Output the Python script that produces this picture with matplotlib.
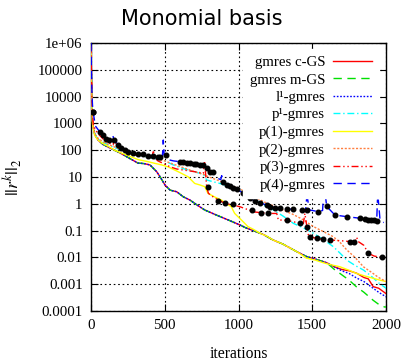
import numpy as np
import matplotlib
matplotlib.use("Agg")
import matplotlib.pyplot as plt

# ---------------- data (log10 of residual norm) ----------------
low_it = [0, 3, 6, 10, 15, 25, 47, 80, 115, 160, 203, 260, 318, 360, 400, 445, 468, 502, 536, 581, 626, 671, 720, 771, 850, 929, 1010, 1051, 1100, 1170, 1234, 1300, 1350, 1400, 1462, 1530, 1598]
low_lg = [5.85, 4.8, 3.8, 3.1, 2.85, 2.6, 2.38, 2.22, 2.12, 2.0, 1.88, 1.7, 1.52, 1.5, 1.45, 1.2, 1.01, 0.7, 0.51, 0.45, 0.26, 0.14, -0.05, -0.23, -0.42, -0.6, -0.79, -0.9, -1.0, -1.15, -1.35, -1.5, -1.65, -1.8, -1.97, -2.08, -2.2]

cgs_tail_it = [1650, 1700, 1750, 1801, 1850, 1880, 1913, 1950, 2000]
cgs_tail_lg = [-2.35, -2.45, -2.5, -2.59, -2.75, -2.8, -3.09, -3.15, -3.35]
mgs_tail_it = [1650, 1688, 1750, 1800, 1850, 1913, 1950, 1990, 2000]
mgs_tail_lg = [-2.45, -2.6, -2.85, -3.1, -3.3, -3.6, -3.75, -3.85, -3.85]
l1_tail_it = [1650, 1700, 1750, 1801, 1850, 1900, 1950, 2000]
l1_tail_lg = [-2.35, -2.5, -2.6, -2.77, -2.9, -3.1, -3.3, -3.47]

p1_it = [0, 3, 6, 10, 15, 25, 47, 80, 115, 160, 203, 260, 318, 380, 432, 480, 522, 590, 658, 703, 740, 771, 793, 840, 884, 920, 951, 974, 1019, 1064, 1100, 1146, 1190, 1234, 1300, 1350, 1400, 1462, 1520, 1575, 1630, 1688, 1750, 1801, 1860, 1914, 1960, 2000]
p1_lg = [5.8, 4.7, 3.7, 3.0, 2.8, 2.55, 2.38, 2.25, 2.15, 2.0, 1.9, 1.78, 1.65, 1.58, 1.51, 1.45, 1.38, 1.2, 1.01, 0.76, 0.7, 0.64, 0.39, 0.25, 0.14, 0.0, -0.11, -0.36, -0.6, -0.85, -0.95, -1.1, -1.2, -1.35, -1.5, -1.65, -1.8, -2.03, -2.1, -2.2, -2.28, -2.35, -2.48, -2.6, -2.7, -2.78, -2.85, -2.9]

pl1_it = [0, 3, 6, 10, 15, 25, 47, 80, 115, 160, 203, 260, 318, 380, 432, 500, 558, 620, 700, 762, 784, 830, 874, 950, 1010, 1055, 1100, 1146, 1190, 1236, 1300, 1372, 1440, 1508, 1580, 1643, 1690, 1734, 1790, 1847, 1900, 1950, 2000]
pl1_lg = [5.8, 4.8, 3.8, 3.1, 2.9, 2.6, 2.42, 2.3, 2.2, 2.1, 2.0, 1.9, 1.82, 1.75, 1.68, 1.6, 1.45, 1.32, 1.2, 1.1, 0.89, 0.82, 0.76, 0.62, 0.5, 0.39, 0.2, 0.02, -0.1, -0.23, -0.45, -0.73, -0.9, -1.1, -1.35, -1.6, -1.85, -2.1, -2.3, -2.47, -2.7, -2.95, -3.15]

p2_it = [0, 3, 6, 10, 15, 25, 47, 80, 115, 160, 203, 260, 318, 380, 432, 500, 558, 620, 700, 762, 800, 874, 950, 1010, 1055, 1100, 1146, 1200, 1260, 1320, 1372, 1440, 1508, 1580, 1643, 1690, 1734, 1790, 1847, 1900, 1950, 2000]
p2_lg = [5.8, 4.8, 3.8, 3.1, 2.9, 2.62, 2.45, 2.32, 2.22, 2.12, 2.02, 1.92, 1.83, 1.75, 1.68, 1.6, 1.48, 1.36, 1.2, 1.1, 1.0, 0.85, 0.68, 0.55, 0.42, 0.3, 0.15, 0.0, -0.12, -0.28, -0.4, -0.6, -0.85, -1.05, -1.23, -1.45, -1.72, -2.0, -2.35, -2.55, -2.75, -2.9]

p3_it = [0, 3, 6, 10, 15, 30, 59, 104, 150, 160, 170, 206, 251, 318, 386, 415, 423, 430, 454, 500, 536, 580, 626, 700, 762, 770, 784, 796, 830, 863, 909, 965, 1010, 1055, 1101, 1150, 1202, 1259, 1270, 1327, 1380, 1417, 1440, 1450, 1462, 1475, 1485, 1530, 1580, 1620, 1700, 1756, 1790, 1801, 1812, 1850, 1880, 1920, 1971, 2000]
p3_lg = [5.9, 4.9, 4.0, 3.4, 3.0, 2.75, 2.55, 2.3, 2.2, 2.5, 2.2, 2.0, 1.9, 1.8, 1.76, 1.75, 2.0, 1.72, 1.6, 1.48, 1.38, 1.3, 1.26, 1.2, 1.14, 1.6, 0.64, 0.39, 0.25, 0.14, 0.02, -0.05, -0.11, -0.2, -0.3, -0.33, -0.36, -0.36, -0.6, -0.62, -0.68, -0.73, -0.73, -0.36, -0.8, -1.2, -1.23, -1.29, -1.33, -1.35, -1.38, -1.41, -1.41, -1.25, -1.41, -1.55, -1.85, -1.95, -2.0, -2.0]
p3_dot_it = [14, 796, 863, 909, 965, 1090, 1150, 1202, 1327, 1417, 1462, 1485, 1530, 1575, 1620, 1756, 1780, 1880, 1971]
p3_dot_lg = [3.44, 0.64, 0.1, 0.02, 0.0, -0.25, -0.33, -0.36, -0.6, -0.73, -0.85, -1.23, -1.29, -1.33, -1.35, -1.41, -1.41, -1.85, -2.0]

p4_it = [0, 3, 6, 10, 14, 30, 59, 104, 140, 148, 156, 206, 251, 318, 386, 454, 484, 490, 496, 513, 536, 560, 603, 671, 762, 784, 807, 829, 860, 880, 886, 892, 897, 920, 965, 988, 1033, 1078, 1146, 1191, 1214, 1282, 1327, 1372, 1455, 1462, 1468, 1480, 1541, 1570, 1578, 1585, 1598, 1654, 1734, 1824, 1900, 1937, 1942, 1948, 1960, 1985]
p4_lg = [6.0, 5.0, 4.2, 3.7, 3.44, 2.9, 2.69, 2.41, 2.38, 2.55, 2.38, 2.07, 1.94, 1.86, 1.8, 1.76, 1.76, 2.38, 1.82, 1.82, 1.63, 1.6, 1.57, 1.51, 1.45, 1.33, 1.2, 1.2, 0.95, 0.9, 1.05, 0.85, 0.82, 0.7, 0.6, 0.55, 0.39, 0.2, 0.02, -0.04, -0.11, -0.17, -0.2, -0.2, -0.23, 0.2, 0.2, -0.23, -0.29, -0.25, 0.51, 0.5, -0.1, -0.42, -0.48, -0.54, -0.6, -0.63, 0.14, 0.14, -0.63, -0.7]
p4_dot_it = [14, 59, 80, 104, 125, 156, 180, 206, 230, 251, 285, 318, 355, 386, 423, 454, 470, 511, 603, 626, 650, 671, 695, 715, 740, 762, 784, 807, 829, 897, 920, 945, 965, 988, 1033, 1078, 1110, 1146, 1191, 1214, 1250, 1282, 1327, 1372, 1430, 1462, 1541, 1598, 1654, 1734, 1824, 1860, 1880, 1900, 1920, 1937]
p4_dot_lg = [3.44, 2.69, 2.55, 2.41, 2.38, 2.38, 2.2, 2.07, 2.0, 1.94, 1.9, 1.86, 1.85, 1.8, 1.8, 1.76, 1.76, 1.82, 1.57, 1.55, 1.53, 1.51, 1.5, 1.48, 1.46, 1.45, 1.33, 1.2, 1.2, 0.82, 0.7, 0.65, 0.6, 0.55, 0.39, 0.2, 0.1, 0.02, -0.04, -0.11, -0.14, -0.17, -0.2, -0.2, -0.22, -0.23, -0.29, -0.1, -0.42, -0.48, -0.54, -0.58, -0.6, -0.6, -0.62, -0.63]

labels = ["gmres c-GS", "gmres m-GS", "l\u00b9-gmres", "p\u00b9-gmres",
          "p(1)-gmres", "p(2)-gmres", "p(3)-gmres", "p(4)-gmres"]
ytick_vals = [1e-4, 1e-3, 1e-2, 1e-1, 1, 10, 100, 1000, 10000, 100000, 1e6]
ytick_labels = ["0.0001", "0.001", "0.01", "0.1", "1", "10", "100", "1000", "10000", "100000", "1e+06"]
xtick_vals = [0, 500, 1000, 1500, 2000]

# ---------------- plotting ----------------
plt.rcParams['font.family'] = ['Liberation Serif', 'DejaVu Serif']
plt.rcParams['mathtext.fontset'] = 'stix'

fig = plt.figure(figsize=(4.04, 3.62), dpi=100)
ax = fig.add_axes([91/404, 1-311/362, 295/404, 268/362])

def p(x):
    return 10.0 ** np.asarray(x, dtype=float)

lw = 1.0
ax.plot(low_it + cgs_tail_it, p(low_lg + cgs_tail_lg), color='#ff0000', lw=lw, label=labels[0], zorder=3)
ax.plot(low_it + mgs_tail_it, p(low_lg + mgs_tail_lg), color='#00e000', lw=lw, ls=(0, (6, 4)), label=labels[1], zorder=3)
ax.plot(low_it + l1_tail_it, p(low_lg + l1_tail_lg), color='#0000ff', lw=lw, ls=(0, (1.2, 1.2)), label=labels[2], zorder=3)
ax.plot(pl1_it, p(pl1_lg), color='#00ffff', lw=lw, ls=(0, (5, 2, 1, 2)), label=labels[3], zorder=3)
ax.plot(p1_it, p(p1_lg), color='#ffff00', lw=lw, label=labels[4], zorder=3)
ax.plot(p2_it, p(p2_lg), color='#ff7f3f', lw=lw, ls=(0, (1.5, 1.2)), label=labels[5], zorder=3)
ax.plot(p3_it, p(p3_lg), color='#ff0000', lw=lw, ls=(0, (5, 2, 1, 2, 1, 2)), label=labels[6], zorder=3)
ax.plot(p4_it, p(p4_lg), color='#0000ff', lw=lw, ls=(0, (6, 4)), label=labels[7], zorder=3)
ax.plot(p3_dot_it, p(p3_dot_lg), ls='none', marker='o', ms=3.3, color='black', zorder=4)
ax.plot(p4_dot_it, p(p4_dot_lg), ls='none', marker='o', ms=3.3, color='black', zorder=4)

ax.set_yscale('log')
ax.set_xlim(0, 2000)
ax.set_ylim(1e-4, 1e6)
ax.set_yticks(ytick_vals)
ax.set_yticklabels(ytick_labels)
ax.yaxis.set_minor_locator(matplotlib.ticker.NullLocator())
ax.set_xticks(xtick_vals)
ax.tick_params(direction='in', length=5, width=0.8, top=True, right=True, labelsize=10.7, pad=6, color='black')
ax.grid(True, color='black', ls=(0, (1.5, 2.5)), lw=0.8)
for s in ax.spines.values():
    s.set_linewidth(1.0)

ax.set_xlabel('iterations', fontsize=11.3, labelpad=10)
ax.set_ylabel(r'$||r^k||_2$', fontsize=13, labelpad=10)
fig.suptitle('Monomial basis', fontsize=15, family='DejaVu Sans', y=0.975)

leg = ax.legend(loc='upper right', bbox_to_anchor=(1.0, 1.005), markerfirst=False, fontsize=10.7,
                frameon=True, fancybox=False, framealpha=1, edgecolor='white', facecolor='white',
                handlelength=2.6, labelspacing=0.27, borderpad=0.45, borderaxespad=0.5, handletextpad=0.55)
leg.set_zorder(5)

fig.savefig('out.png', dpi=100)
